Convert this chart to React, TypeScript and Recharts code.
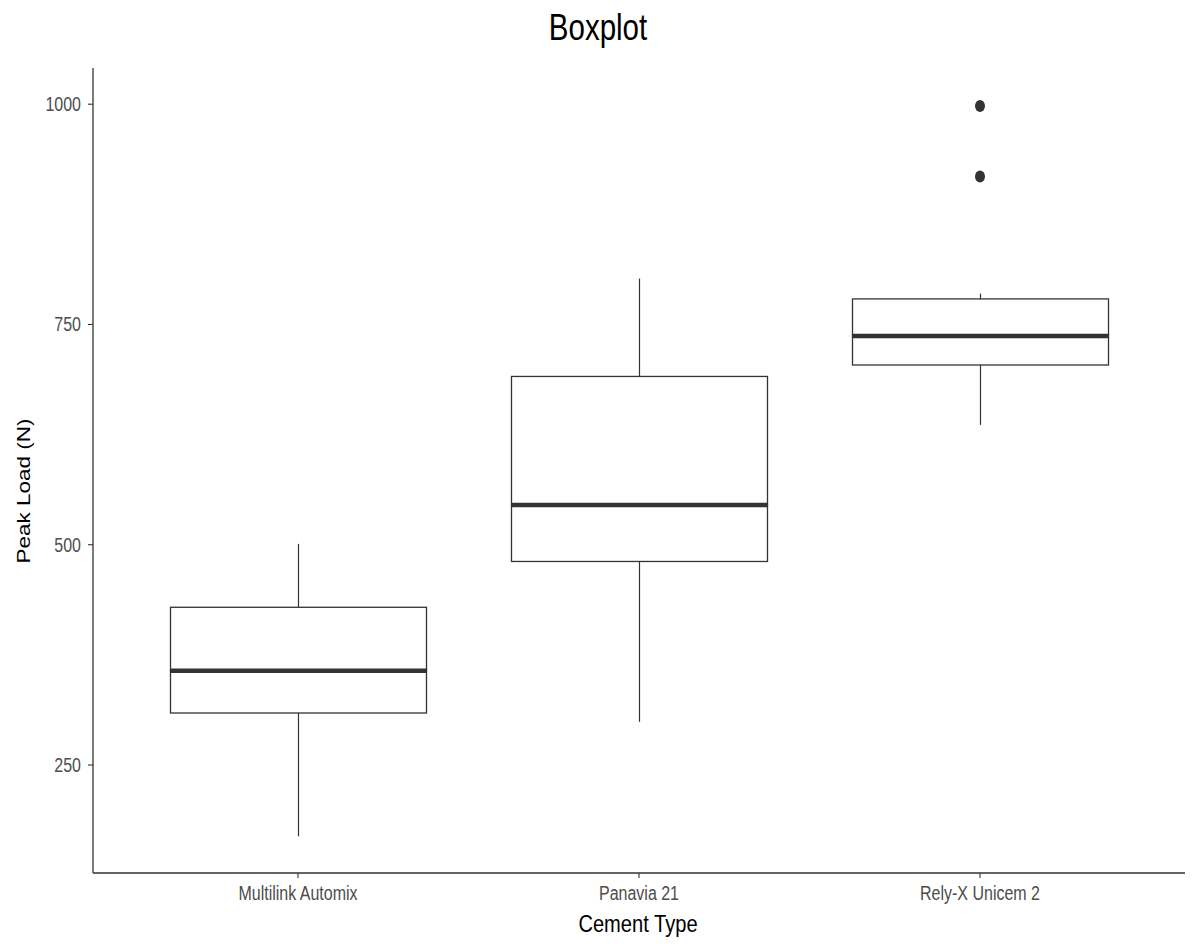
import { ComposedChart, Bar, Scatter, XAxis, YAxis } from 'recharts'

const categories = ['Multilink Automix', 'Panavia 21', 'Rely-X Unicem 2']
const whiskerLow = [169, 299, 636]
const q1 = [309, 481, 704]
const median = [357, 545, 737]
const q3 = [429, 691, 779]
const whiskerHigh = [501, 802, 785]
const outlierCategory = ['Rely-X Unicem 2', 'Rely-X Unicem 2']
const outlierValue = [998, 918]
const yTicks = [250, 500, 750, 1000]

const FONT = '"Liberation Sans", Arimo, Arial, sans-serif'
const SQUEEZE = 0.82
const INK = '#333333'

const rows = categories.map((name, i) => ({
    name,
    floor: whiskerLow[i],
    lowerWhisker: q1[i] - whiskerLow[i],
    lowerBox: median[i] - q1[i],
    upperBox: q3[i] - median[i],
    upperWhisker: whiskerHigh[i] - q3[i],
}))

const outliers = outlierValue.map((value, i) => ({ name: outlierCategory[i], value }))

const Empty = () => <g />

const Whisker = (props: any) => {
    const { x, y, width, height } = props
    const cx = x + width / 2
    return <line x1={cx} x2={cx} y1={y} y2={y + height} stroke={INK} strokeWidth={1.2} />
}

const LowerBox = (props: any) => {
    const { x, y, width, height } = props
    return <rect x={x} y={y} width={width} height={height} fill="#fff" stroke={INK} strokeWidth={1.3} />
}

const UpperBox = (props: any) => {
    const { x, y, width, height } = props
    return (
        <g>
            <rect x={x} y={y} width={width} height={height} fill="#fff" stroke={INK} strokeWidth={1.3} />
            <line x1={x} x2={x + width} y1={y + height} y2={y + height} stroke={INK} strokeWidth={4.5} />
        </g>
    )
}

const Dot = (props: any) => {
    const { cx, cy } = props
    return <ellipse cx={cx} cy={cy} rx={5} ry={6} fill={INK} />
}

// the reference is squashed sideways, so the labels get the same squeeze
const XTick = (props: any) => {
    const { x, y, payload } = props
    return (
        <text
            transform={`translate(${x},${y + 20}) scale(${SQUEEZE},1)`}
            textAnchor="middle"
            fill="#4d4d4d"
            fontSize={19.5}
            fontFamily={FONT}
        >
            {payload.value}
        </text>
    )
}

const YTick = (props: any) => {
    const { x, y, payload } = props
    return (
        <text
            transform={`translate(${x - 5},${y + 7}) scale(${SQUEEZE},1)`}
            textAnchor="end"
            fill="#4d4d4d"
            fontSize={19.5}
            fontFamily={FONT}
        >
            {payload.value}
        </text>
    )
}

const textStyle = {
    position: 'absolute' as const,
    fontFamily: FONT,
    color: '#000',
    whiteSpace: 'nowrap' as const,
    lineHeight: 1,
}

export default function App() {
    return (
        <div style={{ position: 'absolute', left: 0, top: 0, width: 1194, height: 947, background: '#fff' }}>
            <ComposedChart
                width={1194}
                height={947}
                data={rows}
                margin={{ top: 68, right: 9, bottom: 0, left: 0 }}
            >
                <XAxis
                    dataKey="name"
                    allowDuplicatedCategory={false}
                    height={74}
                    padding={{ left: 34.5, right: 34.5 }}
                    axisLine={{ stroke: INK, strokeWidth: 1.3 }}
                    tickLine={{ stroke: INK, strokeWidth: 1.1 }}
                    tickSize={5}
                    tick={<XTick />}
                />
                <YAxis
                    type="number"
                    width={93}
                    domain={[127.4, 1041.1]}
                    allowDataOverflow
                    ticks={yTicks}
                    axisLine={{ stroke: INK, strokeWidth: 1.3 }}
                    tickLine={{ stroke: INK, strokeWidth: 1.1 }}
                    tickSize={5}
                    tick={<YTick />}
                />
                <Bar dataKey="floor" stackId="box" barSize={256} shape={Empty} isAnimationActive={false} />
                <Bar dataKey="lowerWhisker" stackId="box" barSize={256} shape={Whisker} isAnimationActive={false} />
                <Bar dataKey="lowerBox" stackId="box" barSize={256} shape={LowerBox} isAnimationActive={false} />
                <Bar dataKey="upperBox" stackId="box" barSize={256} shape={UpperBox} isAnimationActive={false} />
                <Bar dataKey="upperWhisker" stackId="box" barSize={256} shape={Whisker} isAnimationActive={false} />
                <Scatter data={outliers} dataKey="value" shape={Dot} isAnimationActive={false} />
            </ComposedChart>
            <div
                style={{
                    ...textStyle,
                    left: 598,
                    top: 10,
                    fontSize: 36,
                    transform: `translateX(-50%) scaleX(${SQUEEZE})`,
                }}
            >
                Boxplot
            </div>
            <div
                style={{
                    ...textStyle,
                    left: 638,
                    top: 912,
                    fontSize: 24.5,
                    transform: `translateX(-50%) scaleX(${SQUEEZE})`,
                }}
            >
                Cement Type
            </div>
            <div
                style={{
                    ...textStyle,
                    fontSize: 22.5,
                    left: 24,
                    top: 491,
                    transform: `translate(-50%, -50%) rotate(-90deg) scaleY(${SQUEEZE})`,
                }}
            >
                Peak Load (N)
            </div>
        </div>
    )
}
